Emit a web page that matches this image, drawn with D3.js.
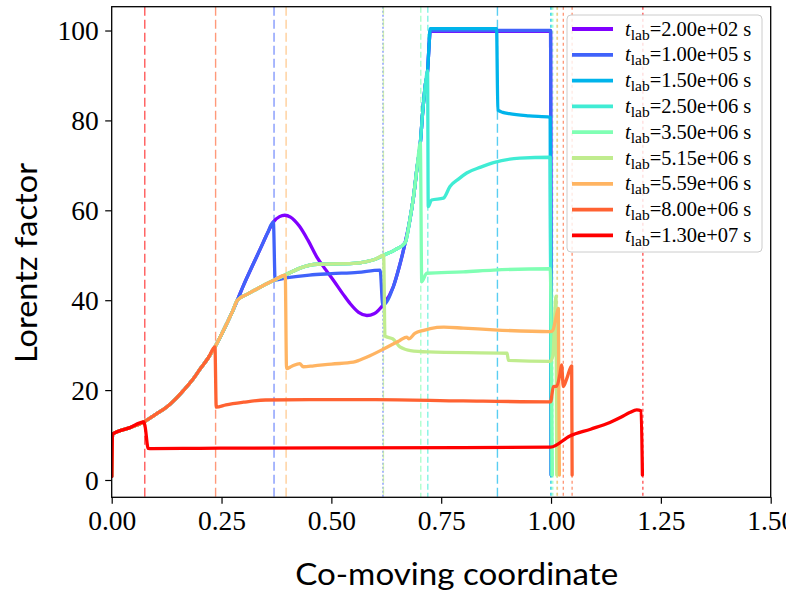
<!DOCTYPE html>
<html><head><meta charset="utf-8">
<script src="https://cdn.jsdelivr.net/npm/d3@7"></script>
<style>body{margin:0;background:#fff;} svg{display:block}</style>
</head><body><svg id="c" width="786" height="590"></svg>
<script>
// ---------- data ----------
const tLabels = ["2.00e+02","1.00e+05","1.50e+06","2.50e+06","3.50e+06","5.15e+06","5.59e+06","8.00e+06","1.30e+07"];
const colors  = ["#8000ff","#4062fa","#00b4eb","#40ecd4","#80ffb4","#c0ec8e","#ffb462","#ff6232","#ff0000"];
const xTicks = [0,0.25,0.5,0.75,1.0,1.25,1.5];
const yTicks = [0,20,40,60,80,100];

// shared path pieces (co-moving coordinate, Lorentz factor)
const pathEarly    = [[0,0.8],[0.002,10.2],[0.04,11.6],[0.073,12.9]];
const pathMid      = [[0.10,14.6],[0.126,16.3],[0.145,18.0],[0.164,20.0],[0.184,22.3],[0.202,24.8],[0.22,27.2],[0.235,29.6]];
const pathUpper    = [[0.249,32.2],[0.262,34.8],[0.275,37.5],[0.286,40.0]];
const pathShoulder = [[0.31,41.4],[0.34,43.0],[0.37,44.5],[0.395,45.6]];
const pathPlateau  = [[0.43,47.2],[0.468,48.0],[0.55,48.2],[0.58,48.6],[0.60,49.1],[0.619,50.0]];
const pathRise     = [[0.643,51.1]];
const pathHump     = [[0.30,43.3],[0.32,47.6],[0.34,51.8],[0.355,55.0],[0.368,57.4]];
const pathSteep    = [[0.668,52.8],[0.678,57.5],[0.687,63],[0.695,69.5],[0.7025,75]];
const pathTop      = [[0.708,82],[0.714,88],[0.719,91]];

const s200 = [...pathEarly,...pathMid,...pathUpper,...pathHump,
  [0.382,58.6],[0.394,58.9],[0.407,58.5],[0.427,56.5],[0.447,53.3],[0.467,49.6],[0.487,46.8],[0.505,44.4],
  [0.527,41.3],[0.543,39.2],[0.562,37.3],[0.581,36.6],[0.597,37.0],[0.617,38.9],[0.641,43.0],[0.655,47.6],
  ...pathSteep,...pathTop,[0.722,96],[0.725,99.8],[0.999,99.8],[1.0005,1.1]];
const s1e5 = [...pathEarly,...pathMid,...pathUpper,...pathHump,
  [0.372,44.5],[0.40,45.0],[0.45,45.6],[0.50,45.9],[0.56,46.2],[0.611,46.7],[0.617,38.9],[0.641,43.0],[0.655,47.6],
  ...pathSteep,...pathTop,[0.722,96],[0.725,100.0],[0.999,100.0],[1.0005,1.1]];
const s15e6 = [...pathEarly,...pathMid,...pathUpper,...pathShoulder,...pathPlateau,...pathRise,...pathSteep,...pathTop,
  [0.722,96],[0.725,100.4],[0.876,100.4],[0.879,82.3],[0.89,81.8],[0.905,81.5],[0.95,81.0],[0.998,80.7],[1.0005,1.1]];
const s25e6 = [...pathEarly,...pathMid,...pathUpper,...pathShoulder,...pathPlateau,...pathRise,...pathSteep,...pathTop,
  [0.7205,60.8],[0.728,62.3],[0.755,62.7],[0.770,65.3],[0.79,67.0],[0.808,68.3],[0.84,69.6],[0.869,70.6],[0.929,71.6],[0.998,71.8],[1.001,1.1]];
const s35e6 = [...pathEarly,...pathMid,...pathUpper,...pathShoulder,...pathPlateau,...pathRise,...pathSteep,
  [0.7057,44.1],[0.717,46.0],[0.8,46.3],[0.869,46.7],[0.998,47.0],[1.003,1.1]];
const s515e6 = [...pathEarly,...pathMid,...pathUpper,...pathShoulder,...pathPlateau,
  [0.622,32.0],[0.64,31.4],[0.656,29.6],[0.68,28.8],[0.72,28.5],[0.90,28.2],[0.903,26.6],[0.998,26.4],[1.004,27.5],[1.0114,40.9],[1.013,1.1]];
const s559e6 = [...pathEarly,...pathMid,...pathUpper,...pathShoulder,
  [0.398,24.8],[0.41,25.3],[0.428,25.9],[0.436,25.2],[0.46,25.4],[0.5,25.8],[0.55,26.2],[0.565,26.7],[0.58,27.3],
  [0.62,29.2],[0.655,31.0],[0.672,31.8],[0.676,31.4],[0.69,32.6],[0.71,33.3],[0.725,33.7],[0.756,34.0],[0.80,33.8],
  [0.87,33.4],[0.998,33.0],[1.004,33.3],[1.010,35.5],[1.0166,38.2],[1.019,1.1]];
const s8e6 = [...pathEarly,...pathMid,
  [0.238,16.2],[0.26,16.7],[0.3,17.3],[0.35,17.8],[0.45,17.9],[0.6,17.9],[0.8,17.6],[0.999,17.4],[1.0053,20.8],
  [1.013,20.9],[1.0205,23.7],[1.024,25.6],[1.028,20.8],[1.036,22.6],[1.047,25.4],[1.048,1.1]];
const s13e7 = [...pathEarly,
  [0.076,11.9],[0.083,7.05],[0.09,7.0],[0.2,7.05],[0.5,7.15],[0.8,7.2],[0.999,7.3],[1.043,9.8],[1.09,11.3],
  [1.134,12.8],[1.16,14.0],[1.179,15.0],[1.195,15.6],[1.205,15.4],[1.208,1.1]];
const seriesData = [s200,s1e5,s15e6,s25e6,s35e6,s515e6,s559e6,s8e6,s13e7];

// vertical marker lines: position, series index, dash type
const markX     = [0.0753,0.2365,0.3695,0.397,0.6175,0.6185,0.7035,0.7195,0.878,0.9993,1.001,1.004,1.0135,1.0145,1.028,1.048,1.209];
const markSeries= [8,7,1,6,1,5,4,3,2,2,3,4,5,6,7,7,8];
const markDash  = ["9,4","9,4","9,4","9,4","2,2","8,4","6,3","6,3","9,4","3,3","3,3","3,3","3,3","3,3","3,3","3,3","3,3"];

// ---------- layout ----------
const svg = d3.select("#c");
const L = 111.7, R = 770.7, T = 6.7, B = 497.3;
const x = d3.scaleLinear().domain([0,1.5]).range([L,R]);
const y = d3.scaleLinear().domain([-3.85,105.3]).range([B,T]);

svg.append("defs").append("clipPath").attr("id","clip")
  .append("rect").attr("x",L).attr("y",T).attr("width",R-L).attr("height",B-T);

const plot = svg.append("g").attr("clip-path","url(#clip)");

plot.selectAll("line.mark").data(markX).join("line").attr("class","mark")
  .attr("x1",d=>x(d)).attr("x2",d=>x(d)).attr("y1",T).attr("y2",B)
  .attr("stroke",(d,i)=>colors[markSeries[i]]).attr("stroke-width",1.4)
  .attr("stroke-opacity",0.65).attr("stroke-dasharray",(d,i)=>markDash[i]);

const line = d3.line().x(d=>x(d[0])).y(d=>y(d[1])).curve(d3.curveMonotoneX);
plot.selectAll("path.s").data(seriesData).join("path").attr("class","s")
  .attr("d",line).attr("fill","none").attr("stroke",(d,i)=>colors[i])
  .attr("stroke-width",3.3).attr("stroke-linejoin","round").attr("stroke-linecap","round");

// axes
const xAxis = d3.axisBottom(x).tickValues(xTicks).tickFormat(d3.format(".2f")).tickSize(6.5).tickSizeOuter(0);
const yAxis = d3.axisLeft(y).tickValues(yTicks).tickFormat(d3.format("d")).tickSize(6.5).tickSizeOuter(0);
const gx = svg.append("g").attr("transform",`translate(0,${B})`).call(xAxis);
const gy = svg.append("g").attr("transform",`translate(${L},0)`).call(yAxis);
[gx,gy].forEach(g=>{
  g.select(".domain").remove();
  g.selectAll(".tick line").attr("stroke","#000").attr("stroke-width",1.2);
  g.selectAll(".tick text").attr("font-family","'Liberation Serif', serif").attr("font-size",27.5).attr("fill","#000");
});
gx.selectAll(".tick text").attr("dy",null).attr("y",33);
gy.selectAll(".tick text").attr("x",-13).attr("dy","0.33em");

svg.append("rect").attr("x",L).attr("y",T).attr("width",R-L).attr("height",B-T)
  .attr("fill","none").attr("stroke","#000").attr("stroke-width",1.3);

// axis labels
svg.append("text").attr("x",456.7).attr("y",585).attr("text-anchor","middle")
  .attr("font-family","Lato, 'Open Sans', sans-serif").attr("font-size",30)
  .attr("textLength",323).attr("lengthAdjust","spacingAndGlyphs")
  .text("Co-moving coordinate");
svg.append("text").attr("transform","translate(37,263) rotate(-90)").attr("text-anchor","middle")
  .attr("font-family","Lato, 'Open Sans', sans-serif").attr("font-size",30)
  .attr("textLength",200).attr("lengthAdjust","spacingAndGlyphs")
  .text("Lorentz factor");

// legend
const lg = svg.append("g");
lg.append("rect").attr("x",567).attr("y",15).attr("width",195).attr("height",237).attr("rx",4)
  .attr("fill","#fff").attr("fill-opacity",0.8).attr("stroke","#cccccc").attr("stroke-width",1);
tLabels.forEach((lab,i)=>{
  const yy = 29 + i*25.8;
  lg.append("line").attr("x1",572).attr("x2",613).attr("y1",yy).attr("y2",yy)
    .attr("stroke",colors[i]).attr("stroke-width",3.8);
  const t = lg.append("text").attr("x",625).attr("y",yy+6.5).attr("font-family","'Liberation Serif', serif")
    .attr("font-size",20.5).attr("fill","#000");
  t.append("tspan").attr("font-style","italic").text("t");
  t.append("tspan").attr("font-size",15.5).attr("dy",4).text("lab");
  t.append("tspan").attr("dy",-4).text("=" + lab + " s");
});
</script></body></html>
